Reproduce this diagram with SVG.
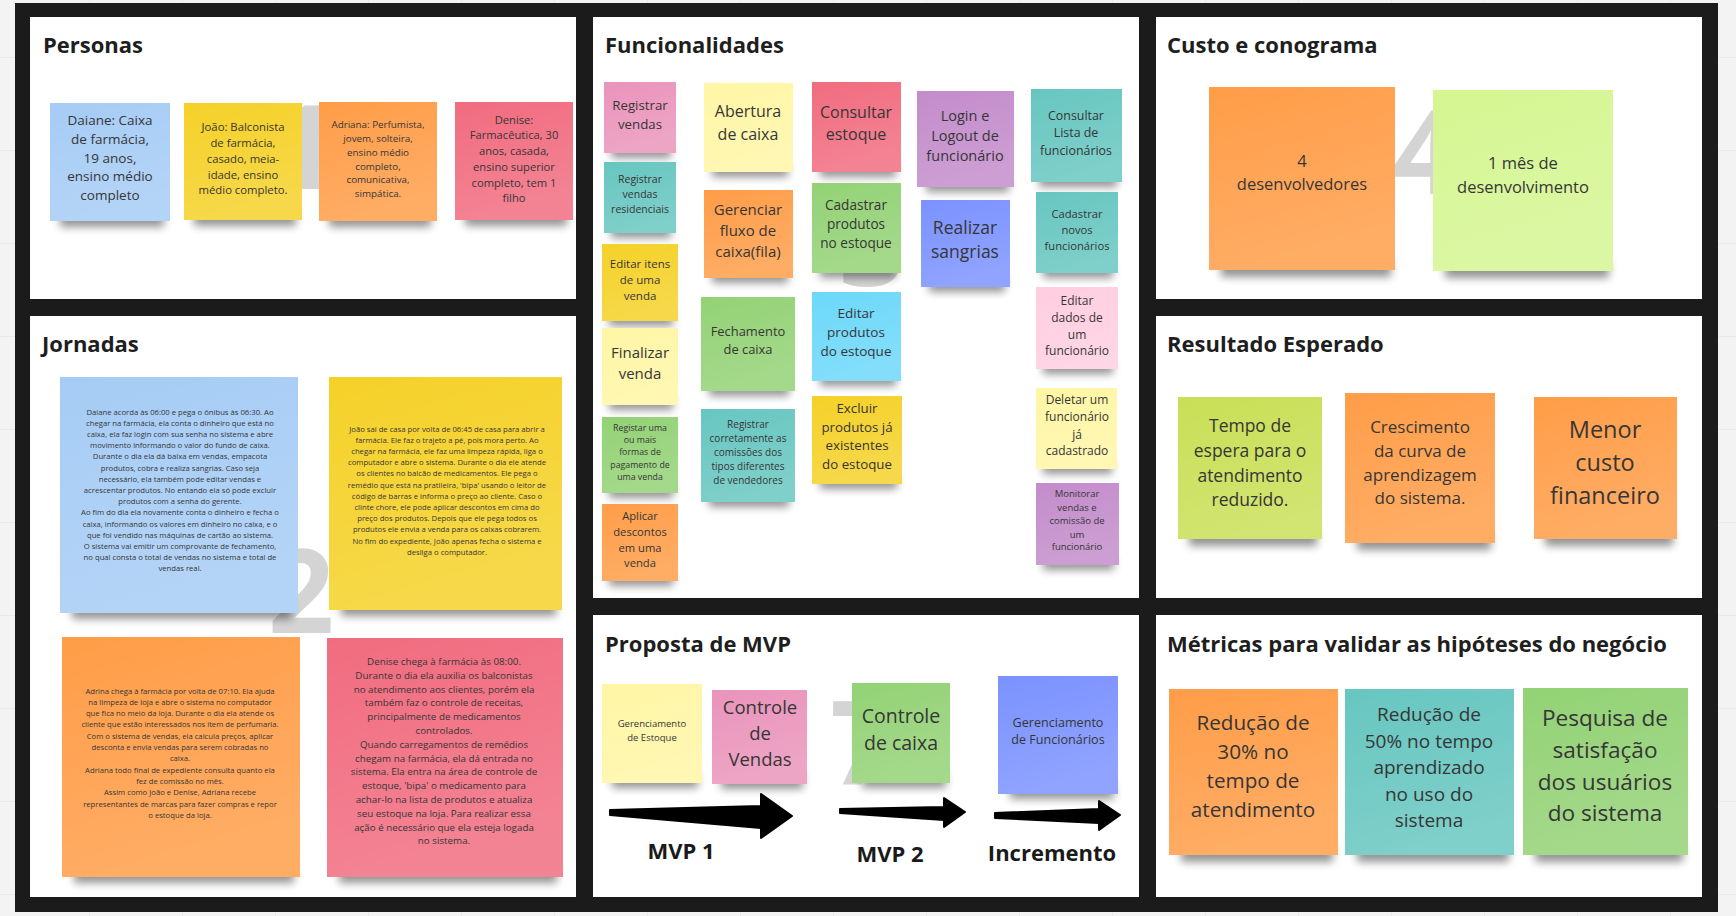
<svg xmlns="http://www.w3.org/2000/svg" width="1736" height="916" viewBox="0 0 1736 916">
<defs>
<style>
.panel{fill:#ffffff}
.title{font-family:"Open Sans","Liberation Sans",sans-serif;font-weight:700;font-size:22px;fill:#1e1e1e}
.num{font-family:"Open Sans","Liberation Sans",sans-serif;font-weight:700;font-size:116px;fill:#d4d4d4}
.t{font-family:"Open Sans","Liberation Sans",sans-serif;fill:#363636;text-anchor:middle}
.lbl{font-family:"Open Sans","Liberation Sans",sans-serif;font-weight:700;font-size:22px;fill:#1a1a1a;text-anchor:middle}
.shd{fill:#000;opacity:.42;filter:url(#blur)}
.sheen{fill:url(#sheen)}
.arrow{fill:#000;stroke:#000;stroke-width:2;stroke-linejoin:round}
.lblue{fill:#a6ccf5}
.yel{fill:#f5d128}
.org{fill:#ff9d48}
.red{fill:#f16c7f}
.pink{fill:#ea94bb}
.teal{fill:#67c6c0}
.lyel{fill:#fff6a5}
.grn{fill:#93d275}
.sky{fill:#6cd8fa}
.vio{fill:#c38ccb}
.dblue{fill:#7b92ff}
.lpink{fill:#ffcee0}
.llime{fill:#d5f692}
.lime{fill:#c9df56}
</style>
<filter id="blur" x="-20%" y="-150%" width="140%" height="400%"><feGaussianBlur stdDeviation="4.5"/></filter>
<linearGradient id="sheen" x1="0" y1="0" x2="0.3" y2="1"><stop offset="0" stop-color="#fff" stop-opacity="0"/><stop offset="1" stop-color="#fff" stop-opacity=".16"/></linearGradient>
<pattern id="grid" width="93" height="93" patternUnits="userSpaceOnUse" x="89" y="57"><path d="M0 0H93M0 0V93" stroke="#e1e1e1" fill="none"/></pattern>
</defs>

<rect width="1736" height="916" fill="#f3f3f3"/>
<rect width="1736" height="916" fill="url(#grid)"/>
<rect x="15" y="3" width="1703" height="909" fill="#1b1b1b"/>

<g id="panels">
<rect class="panel" x="30" y="17" width="546" height="282"/>
<rect class="panel" x="593" y="17" width="546" height="581"/>
<rect class="panel" x="1156" y="17" width="546" height="282"/>
<rect class="panel" x="30" y="316" width="546" height="581"/>
<rect class="panel" x="1156" y="316" width="546" height="282"/>
<rect class="panel" x="593" y="615" width="546" height="282"/>
<rect class="panel" x="1156" y="615" width="546" height="282"/>
<text class="title" x="43" y="53">Personas</text>
<text class="title" x="605" y="53">Funcionalidades</text>
<text class="title" x="1167" y="53">Custo e conograma</text>
<text class="title" x="42" y="352">Jornadas</text>
<text class="title" x="1167" y="352">Resultado Esperado</text>
<text class="title" x="605" y="652">Proposta de MVP</text>
<text class="title" x="1167" y="652">Métricas para validar as hipóteses do negócio</text>
<text class="num" x="271" y="189">1</text>
<text class="num" x="268" y="633">2</text>
<text class="num" x="839" y="286">3</text>
<text class="num" x="1393" y="194">4</text>
<text class="num" x="830" y="785">7</text>
</g>

<g id="p-daiane"><rect class="shd" x="60" y="211" width="104" height="16"/><rect class="lblue" x="50" y="103" width="120" height="118"/><rect class="sheen" x="50" y="103" width="120" height="118"/>
<text class="t" font-size="13.5"><tspan x="110" y="125">Daiane: Caixa</tspan><tspan x="110" y="144">de farmácia,</tspan><tspan x="110" y="163">19 anos,</tspan><tspan x="110" y="181">ensino médio</tspan><tspan x="110" y="200">completo</tspan></text></g>
<g id="p-joao"><rect class="shd" x="194" y="210" width="102" height="16"/><rect class="yel" x="184" y="103" width="118" height="117"/><rect class="sheen" x="184" y="103" width="118" height="117"/>
<text class="t" font-size="11.3"><tspan x="243" y="130.5">João: Balconista</tspan><tspan x="243" y="146.5">de farmácia,</tspan><tspan x="243" y="162.5">casado, meia-</tspan><tspan x="243" y="178.5">idade, ensino</tspan><tspan x="243" y="193.5">médio completo.</tspan></text></g>
<g id="p-adriana"><rect class="shd" x="329" y="211" width="102" height="16"/><rect class="org" x="319" y="102" width="118" height="119"/><rect class="sheen" x="319" y="102" width="118" height="119"/>
<text class="t" font-size="9.8"><tspan x="378" y="128">Adriana: Perfumista,</tspan><tspan x="378" y="142">jovem, solteira,</tspan><tspan x="378" y="156">ensino médio</tspan><tspan x="378" y="170">completo,</tspan><tspan x="378" y="183">comunicativa,</tspan><tspan x="378" y="197">simpática.</tspan></text></g>
<g id="p-denise"><rect class="shd" x="465" y="210" width="102" height="16"/><rect class="red" x="455" y="102" width="118" height="118"/><rect class="sheen" x="455" y="102" width="118" height="118"/>
<text class="t" font-size="11.2"><tspan x="514" y="123.5">Denise:</tspan><tspan x="514" y="138.5">Farmacêutica, 30</tspan><tspan x="514" y="154.5">anos, casada,</tspan><tspan x="514" y="170.5">ensino superior</tspan><tspan x="514" y="186.5">completo, tem 1</tspan><tspan x="514" y="201.5">filho</tspan></text></g>

<g id="j-daiane"><rect class="shd" x="72" y="601" width="220" height="18"/><rect class="lblue" x="60" y="377" width="238" height="236"/><rect class="sheen" x="60" y="377" width="238" height="236"/>
<text class="t" font-size="7.7"><tspan x="180" y="414.5">Daiane acorda às 06:00 e pega o ônibus às 06:30. Ao</tspan><tspan x="180" y="425.7">chegar na farmácia, ela conta o dinheiro que está no</tspan><tspan x="180" y="436.9">caixa, ela faz login com sua senha no sistema e abre</tspan><tspan x="180" y="448.1">movimento informando o valor do fundo de caixa.</tspan><tspan x="180" y="459.3">Durante o dia ela dá baixa em vendas, empacota</tspan><tspan x="180" y="470.5">produtos, cobra e realiza sangrias. Caso seja</tspan><tspan x="180" y="481.7">necessário, ela também pode editar vendas e</tspan><tspan x="180" y="492.9">acrescentar produtos. No entando ela só pode excluir</tspan><tspan x="180" y="504.1">produtos com a senha do gerente.</tspan><tspan x="180" y="515.3">Ao fim do dia ela novamente conta o dinheiro e fecha o</tspan><tspan x="180" y="526.5">caixa, informando os valores em dinheiro no caixa, e o</tspan><tspan x="180" y="537.7">que foi vendido nas máquinas de cartão ao sistema.</tspan><tspan x="180" y="548.9">O sistema vai emitir um comprovante de fechamento,</tspan><tspan x="180" y="560.1">no qual consta o total de vendas no sistema e total de</tspan><tspan x="180" y="571.3">vendas real.</tspan></text></g>
<g id="j-joao"><rect class="shd" x="341" y="598" width="215" height="18"/><rect class="yel" x="329" y="377" width="233" height="233"/><rect class="sheen" x="329" y="377" width="233" height="233"/>
<text class="t" font-size="7.7"><tspan x="447" y="431.5">João sai de casa por volta de 06:45 de casa para abrir a</tspan><tspan x="447" y="442.7">farmácia. Ele faz o trajeto a pé, pois mora perto. Ao</tspan><tspan x="447" y="453.9">chegar na farmácia, ele faz uma limpeza rápida, liga o</tspan><tspan x="447" y="465.1">computador e abre o sistema. Durante o dia ele atende</tspan><tspan x="447" y="476.3">os clientes no balcão de medicamentos. Ele pega o</tspan><tspan x="447" y="487.5">remédio que está na pratileira, 'bipa' usando o leitor de</tspan><tspan x="447" y="498.7">código de barras e informa o preço ao cliente. Caso o</tspan><tspan x="447" y="509.9">clinte chore, ele pode aplicar descontos em cima do</tspan><tspan x="447" y="521.1">preço dos produtos. Depois que ele pega todos os</tspan><tspan x="447" y="532.3">produtos ele envia a venda para os caixas cobrarem.</tspan><tspan x="447" y="543.5">No fim do expediente, João apenas fecha o sistema e</tspan><tspan x="447" y="554.7">desliga o computador.</tspan></text></g>
<g id="j-adriana"><rect class="shd" x="74" y="865" width="220" height="18"/><rect class="org" x="62" y="637" width="238" height="240"/><rect class="sheen" x="62" y="637" width="238" height="240"/>
<text class="t" font-size="7.7"><tspan x="180" y="693.5">Adrina chega à farmácia por volta de 07:10. Ela ajuda</tspan><tspan x="180" y="704.8">na limpeza de loja e abre o sistema no computador</tspan><tspan x="180" y="716.1">que fica no meio da loja. Durante o dia ela atende os</tspan><tspan x="180" y="727.4">cliente que estão interessados nos item de perfumaria.</tspan><tspan x="180" y="738.7">Com o sistema de vendas, ela calcula preços, aplicar</tspan><tspan x="180" y="750">desconta e envia vendas para serem cobradas no</tspan><tspan x="180" y="761.3">caixa.</tspan><tspan x="180" y="772.6">Adriana todo final de expediente consulta quanto ela</tspan><tspan x="180" y="783.9">fez de comissão no mês.</tspan><tspan x="180" y="795.2">Assim como João e Denise, Adriana recebe</tspan><tspan x="180" y="806.5">representantes de marcas para fazer compras e repor</tspan><tspan x="180" y="817.8">o estoque da loja.</tspan></text></g>
<g id="j-denise"><rect class="shd" x="339" y="865" width="218" height="18"/><rect class="red" x="327" y="638" width="236" height="239"/><rect class="sheen" x="327" y="638" width="236" height="239"/>
<text class="t" font-size="9.8"><tspan x="444" y="665">Denise chega à farmácia às 08:00.</tspan><tspan x="444" y="678.8">Durante o dia ela auxilia os balconistas</tspan><tspan x="444" y="692.6">no atendimento aos clientes, porém ela</tspan><tspan x="444" y="706.4">também faz o controle de receitas,</tspan><tspan x="444" y="720.2">principalmente de medicamentos</tspan><tspan x="444" y="734">controlados.</tspan><tspan x="444" y="747.8">Quando carregamentos de remédios</tspan><tspan x="444" y="761.6">chegam na farmácia, ela dá entrada no</tspan><tspan x="444" y="775.4">sistema. Ela entra na área de controle de</tspan><tspan x="444" y="789.2">estoque, 'bipa' o medicamento para</tspan><tspan x="444" y="803">achar-lo na lista de produtos e atualiza</tspan><tspan x="444" y="816.8">seu estoque na loja.  Para realizar essa</tspan><tspan x="444" y="830.6">ação é necessário que ela esteja logada</tspan><tspan x="444" y="844.4">no sistema.</tspan></text></g>

<g id="f-registrar-vendas"><rect class="shd" x="611" y="144" width="60" height="14"/><rect class="pink" x="604" y="82" width="72" height="71"/><rect class="sheen" x="604" y="82" width="72" height="71"/>
<text class="t" font-size="13.3"><tspan x="640" y="110">Registrar</tspan><tspan x="640" y="129">vendas</tspan></text></g>
<g id="f-vendas-residenciais"><rect class="shd" x="611" y="224" width="60" height="14"/><rect class="teal" x="604" y="162" width="72" height="71"/><rect class="sheen" x="604" y="162" width="72" height="71"/>
<text class="t" font-size="10.5"><tspan x="640" y="183">Registrar</tspan><tspan x="640" y="198">vendas</tspan><tspan x="640" y="213">residenciais</tspan></text></g>
<g id="f-editar-itens"><rect class="shd" x="609" y="312" width="64" height="14"/><rect class="yel" x="602" y="244" width="76" height="77"/><rect class="sheen" x="602" y="244" width="76" height="77"/>
<text class="t" font-size="11.5"><tspan x="640" y="267.5">Editar itens</tspan><tspan x="640" y="283.5">de uma</tspan><tspan x="640" y="299.5">venda</tspan></text></g>
<g id="f-finalizar"><rect class="shd" x="609" y="396" width="64" height="14"/><rect class="lyel" x="602" y="328" width="76" height="77"/><rect class="sheen" x="602" y="328" width="76" height="77"/>
<text class="t" font-size="15"><tspan x="640" y="357.5">Finalizar</tspan><tspan x="640" y="378.5">venda</tspan></text></g>
<g id="f-pagamento"><rect class="shd" x="609" y="484" width="64" height="14"/><rect class="grn" x="602" y="417" width="76" height="76"/><rect class="sheen" x="602" y="417" width="76" height="76"/>
<text class="t" font-size="8.8"><tspan x="640" y="430.5">Registar uma</tspan><tspan x="640" y="442.5">ou mais</tspan><tspan x="640" y="454.5">formas de</tspan><tspan x="640" y="467.5">pagamento de</tspan><tspan x="640" y="479.5">uma venda</tspan></text></g>
<g id="f-descontos"><rect class="shd" x="609" y="572" width="64" height="14"/><rect class="org" x="602" y="504" width="76" height="77"/><rect class="sheen" x="602" y="504" width="76" height="77"/>
<text class="t" font-size="11.2"><tspan x="640" y="519.5">Aplicar</tspan><tspan x="640" y="535.5">descontos</tspan><tspan x="640" y="551.5">em uma</tspan><tspan x="640" y="566.5">venda</tspan></text></g>
<g id="f-abertura"><rect class="shd" x="712" y="163" width="76" height="14"/><rect class="lyel" x="704" y="83" width="89" height="89"/><rect class="sheen" x="704" y="83" width="89" height="89"/>
<text class="t" font-size="16"><tspan x="748" y="117">Abertura</tspan><tspan x="748" y="140">de caixa</tspan></text></g>
<g id="f-fluxo"><rect class="shd" x="712" y="269" width="76" height="14"/><rect class="org" x="704" y="190" width="89" height="88"/><rect class="sheen" x="704" y="190" width="89" height="88"/>
<text class="t" font-size="15"><tspan x="748" y="214.5">Gerenciar</tspan><tspan x="748" y="235.5">fluxo de</tspan><tspan x="748" y="256.5">caixa(fila)</tspan></text></g>
<g id="f-fechamento"><rect class="shd" x="709" y="382" width="80" height="14"/><rect class="grn" x="701" y="297" width="94" height="94"/><rect class="sheen" x="701" y="297" width="94" height="94"/>
<text class="t" font-size="12.9"><tspan x="748" y="336">Fechamento</tspan><tspan x="748" y="354">de caixa</tspan></text></g>
<g id="f-comissoes"><rect class="shd" x="709" y="493" width="80" height="14"/><rect class="teal" x="701" y="409" width="94" height="93"/><rect class="sheen" x="701" y="409" width="94" height="93"/>
<text class="t" font-size="10"><tspan x="748" y="428">Registrar</tspan><tspan x="748" y="442">corretamente as</tspan><tspan x="748" y="456">comissões dos</tspan><tspan x="748" y="470">tipos diferentes</tspan><tspan x="748" y="484">de vendedores</tspan></text></g>
<g id="f-consultar-estoque"><rect class="shd" x="820" y="163" width="76" height="14"/><rect class="red" x="812" y="82" width="89" height="90"/><rect class="sheen" x="812" y="82" width="89" height="90"/>
<text class="t" font-size="16"><tspan x="856" y="118">Consultar</tspan><tspan x="856" y="140">estoque</tspan></text></g>
<g id="f-cadastrar-produtos"><rect class="shd" x="820" y="264" width="76" height="14"/><rect class="grn" x="812" y="183" width="89" height="90"/><rect class="sheen" x="812" y="183" width="89" height="90"/>
<text class="t" font-size="13.6"><tspan x="856" y="210">Cadastrar</tspan><tspan x="856" y="229">produtos</tspan><tspan x="856" y="248">no estoque</tspan></text></g>
<g id="f-editar-produtos"><rect class="shd" x="820" y="372" width="76" height="14"/><rect class="sky" x="812" y="292" width="89" height="89"/><rect class="sheen" x="812" y="292" width="89" height="89"/>
<text class="t" font-size="13.5"><tspan x="856" y="318">Editar</tspan><tspan x="856" y="337">produtos</tspan><tspan x="856" y="356">do estoque</tspan></text></g>
<g id="f-excluir"><rect class="shd" x="820" y="475" width="77" height="14"/><rect class="yel" x="812" y="396" width="90" height="88"/><rect class="sheen" x="812" y="396" width="90" height="88"/>
<text class="t" font-size="13.3"><tspan x="857" y="413">Excluir</tspan><tspan x="857" y="432">produtos já</tspan><tspan x="857" y="450">existentes</tspan><tspan x="857" y="469">do estoque</tspan></text></g>
<g id="f-login"><rect class="shd" x="926" y="178" width="83" height="14"/><rect class="vio" x="917" y="91" width="97" height="96"/><rect class="sheen" x="917" y="91" width="97" height="96"/>
<text class="t" font-size="14.5"><tspan x="965" y="120.5">Login e</tspan><tspan x="965" y="140.5">Logout de</tspan><tspan x="965" y="160.5">funcionário</tspan></text></g>
<g id="f-sangrias"><rect class="shd" x="929" y="278" width="76" height="14"/><rect class="dblue" x="921" y="200" width="89" height="87"/><rect class="sheen" x="921" y="200" width="89" height="87"/>
<text class="t" font-size="17.5"><tspan x="965" y="234">Realizar</tspan><tspan x="965" y="258">sangrias</tspan></text></g>
<g id="f-lista-funcionarios"><rect class="shd" x="1039" y="173" width="78" height="14"/><rect class="teal" x="1031" y="89" width="91" height="93"/><rect class="sheen" x="1031" y="89" width="91" height="93"/>
<text class="t" font-size="12.4"><tspan x="1076" y="120">Consultar</tspan><tspan x="1076" y="137">Lista de</tspan><tspan x="1076" y="155">funcionários</tspan></text></g>
<g id="f-cadastrar-funcionarios"><rect class="shd" x="1043" y="264" width="70" height="14"/><rect class="teal" x="1036" y="192" width="82" height="81"/><rect class="sheen" x="1036" y="192" width="82" height="81"/>
<text class="t" font-size="11.2"><tspan x="1077" y="217.5">Cadastrar</tspan><tspan x="1077" y="233.5">novos</tspan><tspan x="1077" y="249.5">funcionários</tspan></text></g>
<g id="f-editar-funcionario"><rect class="shd" x="1043" y="360" width="70" height="14"/><rect class="lpink" x="1036" y="287" width="82" height="82"/><rect class="sheen" x="1036" y="287" width="82" height="82"/>
<text class="t" font-size="12"><tspan x="1077" y="304.5">Editar</tspan><tspan x="1077" y="321.5">dados de</tspan><tspan x="1077" y="338.5">um</tspan><tspan x="1077" y="354.5">funcionário</tspan></text></g>
<g id="f-deletar-funcionario"><rect class="shd" x="1043" y="460" width="69" height="14"/><rect class="lyel" x="1036" y="388" width="81" height="81"/><rect class="sheen" x="1036" y="388" width="81" height="81"/>
<text class="t" font-size="12"><tspan x="1077" y="403.5">Deletar um</tspan><tspan x="1077" y="420.5">funcionário</tspan><tspan x="1077" y="438.5">já</tspan><tspan x="1077" y="454.5">cadastrado</tspan></text></g>
<g id="f-monitorar"><rect class="shd" x="1043" y="556" width="71" height="14"/><rect class="vio" x="1036" y="483" width="83" height="82"/><rect class="sheen" x="1036" y="483" width="83" height="82"/>
<text class="t" font-size="9.5"><tspan x="1077" y="497">Monitorar</tspan><tspan x="1077" y="511">vendas e</tspan><tspan x="1077" y="524">comissão de</tspan><tspan x="1077" y="538">um</tspan><tspan x="1077" y="550">funcionário</tspan></text></g>

<g id="c-desenvolvedores"><rect class="shd" x="1221" y="259" width="170" height="18"/><rect class="org" x="1209" y="87" width="186" height="183"/><rect class="sheen" x="1209" y="87" width="186" height="183"/>
<text class="t" font-size="16.5"><tspan x="1302" y="167">4</tspan><tspan x="1302" y="190">desenvolvedores</tspan></text></g>
<g id="c-mes"><rect class="shd" x="1445" y="260" width="164" height="18"/><rect class="llime" x="1433" y="90" width="180" height="181"/><rect class="sheen" x="1433" y="90" width="180" height="181"/>
<text class="t" font-size="16.5"><tspan x="1523" y="169">1 mês de</tspan><tspan x="1523" y="193">desenvolvimento</tspan></text></g>

<g id="r-tempo"><rect class="shd" x="1189" y="528" width="128" height="18"/><rect class="lime" x="1178" y="397" width="144" height="142"/><rect class="sheen" x="1178" y="397" width="144" height="142"/>
<text class="t" font-size="17.5"><tspan x="1250" y="432">Tempo de</tspan><tspan x="1250" y="457">espera para o</tspan><tspan x="1250" y="482">atendimento</tspan><tspan x="1250" y="506">reduzido.</tspan></text></g>
<g id="r-crescimento"><rect class="shd" x="1357" y="532" width="134" height="18"/><rect class="org" x="1345" y="393" width="150" height="150"/><rect class="sheen" x="1345" y="393" width="150" height="150"/>
<text class="t" font-size="17"><tspan x="1420" y="433">Crescimento</tspan><tspan x="1420" y="457">da curva de</tspan><tspan x="1420" y="481">aprendizagem</tspan><tspan x="1420" y="504">do sistema.</tspan></text></g>
<g id="r-custo"><rect class="shd" x="1545" y="528" width="128" height="18"/><rect class="org" x="1534" y="397" width="143" height="142"/><rect class="sheen" x="1534" y="397" width="143" height="142"/>
<text class="t" font-size="23.5"><tspan x="1605" y="438">Menor</tspan><tspan x="1605" y="471">custo</tspan><tspan x="1605" y="504">financeiro</tspan></text></g>

<g id="m-reducao-30"><rect class="shd" x="1181" y="844" width="152" height="18"/><rect class="org" x="1169" y="689" width="169" height="166"/><rect class="sheen" x="1169" y="689" width="169" height="166"/>
<text class="t" font-size="20.7"><tspan x="1253" y="730">Redução de</tspan><tspan x="1253" y="759">30% no</tspan><tspan x="1253" y="788">tempo de</tspan><tspan x="1253" y="817">atendimento</tspan></text></g>
<g id="m-reducao-50"><rect class="shd" x="1357" y="844" width="152" height="18"/><rect class="teal" x="1345" y="689" width="169" height="166"/><rect class="sheen" x="1345" y="689" width="169" height="166"/>
<text class="t" font-size="19"><tspan x="1429" y="721">Redução de</tspan><tspan x="1429" y="748">50% no tempo</tspan><tspan x="1429" y="774">aprendizado</tspan><tspan x="1429" y="801">no uso do</tspan><tspan x="1429" y="827">sistema</tspan></text></g>
<g id="m-pesquisa"><rect class="shd" x="1535" y="844" width="148" height="18"/><rect class="grn" x="1523" y="688" width="165" height="167"/><rect class="sheen" x="1523" y="688" width="165" height="167"/>
<text class="t" font-size="22.6"><tspan x="1605" y="726">Pesquisa de</tspan><tspan x="1605" y="758">satisfação</tspan><tspan x="1605" y="790">dos usuários</tspan><tspan x="1605" y="821">do sistema</tspan></text></g>

<g id="v-estoque"><rect class="shd" x="612" y="772" width="86" height="16"/><rect class="lyel" x="602" y="684" width="100" height="99"/><rect class="sheen" x="602" y="684" width="100" height="99"/>
<text class="t" font-size="9.5"><tspan x="652" y="727">Gerenciamento</tspan><tspan x="652" y="741">de Estoque</tspan></text></g>
<g id="v-vendas"><rect class="shd" x="721" y="773" width="82" height="16"/><rect class="pink" x="712" y="690" width="95" height="94"/><rect class="sheen" x="712" y="690" width="95" height="94"/>
<text class="t" font-size="18.5"><tspan x="760" y="713.5">Controle</tspan><tspan x="760" y="739.5">de</tspan><tspan x="760" y="765.5">Vendas</tspan></text></g>
<g id="v-caixa"><rect class="shd" x="862" y="772" width="84" height="16"/><rect class="grn" x="852" y="683" width="98" height="100"/><rect class="sheen" x="852" y="683" width="98" height="100"/>
<text class="t" font-size="19.5"><tspan x="901" y="723">Controle</tspan><tspan x="901" y="750">de caixa</tspan></text></g>
<g id="v-funcionarios"><rect class="shd" x="1010" y="783" width="104" height="16"/><rect class="dblue" x="998" y="676" width="120" height="118"/><rect class="sheen" x="998" y="676" width="120" height="118"/>
<text class="t" font-size="12.6"><tspan x="1058" y="727">Gerenciamento</tspan><tspan x="1058" y="744">de Funcionários</tspan></text></g>

<g id="connectors">
<path class="arrow" d="M610 810 L761 806 L761 794 L792 816 L761 838 L761 828 L610 815 Z"/>
<path class="arrow" d="M840 809 L944 807 L944 798 L965 812 L944 827 L944 820 L840 813 Z"/>
<path class="arrow" d="M995 813 L1099 809 L1099 801 L1120 815 L1099 830 L1099 823 L995 818 Z"/>
</g>

<g id="labels">
<text class="lbl" x="681" y="859">MVP 1</text>
<text class="lbl" x="890" y="862">MVP 2</text>
<text class="lbl" x="1052" y="861">Incremento</text>
</g>
</svg>
